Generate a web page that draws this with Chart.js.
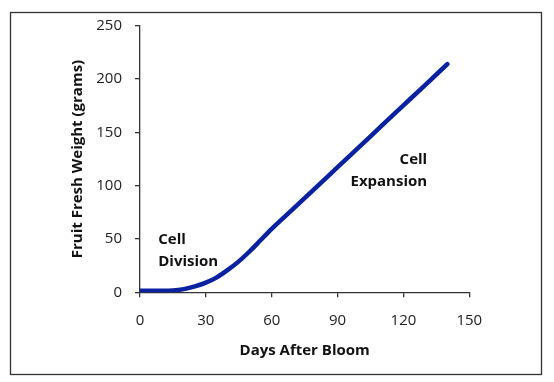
<!DOCTYPE html>
<html>
<head>
<meta charset="utf-8">
<script src="https://cdn.jsdelivr.net/npm/chart.js@4.4.1/dist/chart.umd.min.js"></script>
<style>
  html, body { margin: 0; padding: 0; background: #fff; }
  #wrap { width: 554px; height: 382px; position: relative; }
</style>
</head>
<body>
<div id="wrap"><canvas id="c" width="554" height="382"></canvas></div>
<script>
// ---- data ----
const days    = [0, 5, 10, 15, 20, 25, 30, 35, 40, 45, 50, 55, 60, 70, 80, 90, 100, 110, 120, 130, 140];
const weights = [1.5, 1.5, 1.5, 1.7, 3, 5.5, 9, 14, 21, 29, 38.5, 49, 59.5, 78.6, 98, 117.3, 136.6, 156, 175.3, 194.6, 214];
const xTicks  = [0, 30, 60, 90, 120, 150];
const yTicks  = [0, 50, 100, 150, 200, 250];
const xTitle  = 'Days After Bloom';
const yTitle  = 'Fruit Fresh Weight (grams)';
const noteDivision  = ['Cell', 'Division'];
const noteExpansion = ['Cell', 'Expansion'];
// annotation anchors in data units
const noteDivisionAt  = { x: 8.3, y: 45.2 };
const noteExpansionAt = { x: 130.8, y: 120.1 };

const FONT = "'Open Sans', 'Liberation Sans', sans-serif";

const decor = {
  id: 'decor',
  beforeDraw(chart) {
    const ctx = chart.ctx;
    ctx.save();
    ctx.fillStyle = '#fff';
    ctx.fillRect(0, 0, chart.width, chart.height);
    ctx.strokeStyle = '#333';
    ctx.lineWidth = 1.3;
    ctx.strokeRect(10.5, 12.5, 531, 362);
    ctx.restore();
  },
  afterDraw(chart) {
    const ctx = chart.ctx;
    const xs = chart.scales.x, ys = chart.scales.y;
    ctx.save();
    ctx.fillStyle = '#111';
    ctx.font = 'bold 15px ' + FONT;
    ctx.textBaseline = 'alphabetic';
    // Cell Division (left aligned)
    ctx.textAlign = 'left';
    let px = xs.getPixelForValue(noteDivisionAt.x);
    let py = ys.getPixelForValue(noteDivisionAt.y);
    noteDivision.forEach((t, i) => ctx.fillText(t, px, py + i * 21.5));
    // Cell Expansion (right aligned)
    ctx.textAlign = 'right';
    px = xs.getPixelForValue(noteExpansionAt.x);
    py = ys.getPixelForValue(noteExpansionAt.y);
    noteExpansion.forEach((t, i) => ctx.fillText(t, px, py + i * 21.5));
    ctx.restore();
  }
};

new Chart(document.getElementById('c'), {
  type: 'line',
  data: {
    datasets: [{
      data: days.map((d, i) => ({ x: d, y: weights[i] })),
      borderColor: '#0b22a0',
      borderWidth: 4.5,
      borderCapStyle: 'round',
      borderJoinStyle: 'round',
      pointRadius: 0,
      cubicInterpolationMode: 'monotone',
      fill: false
    }]
  },
  options: {
    responsive: false,
    animation: false,
    devicePixelRatio: 1,
    layout: { padding: { left: 0, right: 84.7, top: 25.7, bottom: 0 } },
    plugins: { legend: { display: false }, tooltip: { enabled: false } },
    scales: {
      x: {
        type: 'linear',
        min: 0, max: 150,
        afterBuildTicks(s) { s.ticks = xTicks.map(v => ({ value: v })); },
        afterFit(s) { s.height = 89.7; },
        grid: { drawOnChartArea: false, drawTicks: true, tickLength: 5, color: '#333', lineWidth: 1.3 },
        border: { display: true, color: '#333', width: 1.3 },
        ticks: { color: '#222', padding: 14, maxRotation: 0, font: { family: FONT, size: 15 } },
        title: { display: true, text: xTitle, color: '#111', padding: { top: 0, bottom: 22 }, font: { family: FONT, size: 15, weight: 'bold' } }
      },
      y: {
        type: 'linear',
        min: 0, max: 250,
        afterBuildTicks(s) { s.ticks = yTicks.map(v => ({ value: v })); },
        afterFit(s) { s.width = 140; },
        grid: { drawOnChartArea: false, drawTicks: true, tickLength: 5, color: '#333', lineWidth: 1.3 },
        border: { display: true, color: '#333', width: 1.3 },
        ticks: { color: '#222', padding: 13, font: { family: FONT, size: 15 } },
        title: { display: true, text: yTitle, color: '#111', padding: { top: 69, bottom: 0 }, font: { family: FONT, size: 15, weight: 'bold' } }
      }
    }
  },
  plugins: [decor]
});
</script>
</body>
</html>
